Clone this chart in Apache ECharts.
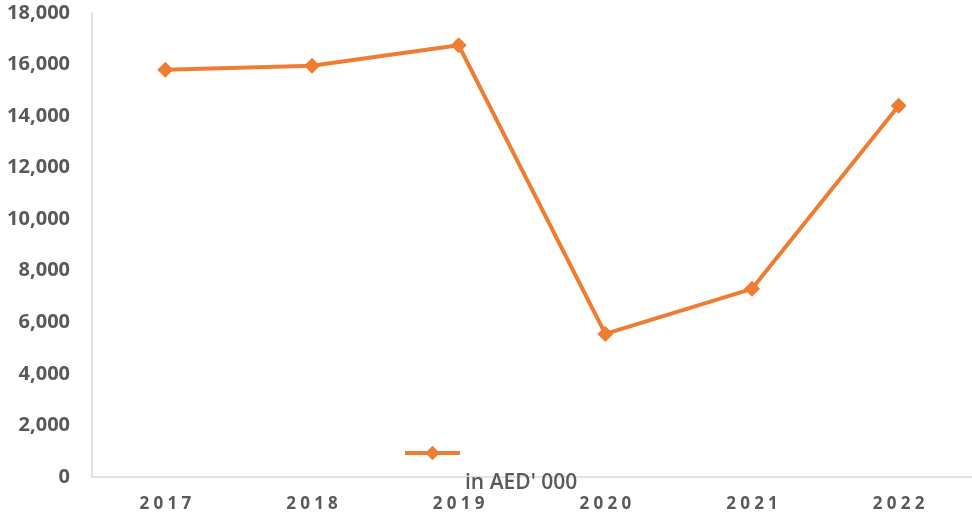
<!DOCTYPE html>
<html>
<head>
<meta charset="utf-8">
<script src="https://cdn.jsdelivr.net/npm/echarts@6/dist/echarts.min.js"></script>
<style>
  html, body { margin: 0; padding: 0; background: #fff; }
  #main { width: 972px; height: 517px; }
</style>
</head>
<body>
<div id="main"></div>
<script>
// data
var years = ["2017", "2018", "2019", "2020", "2021", "2022"];
var values = [15800, 15950, 16750, 5550, 7300, 14400];
var seriesName = "in AED' 000";

var chart = echarts.init(document.getElementById("main"));
var option = {
  animation: false,
  grid: { left: 92, right: 0, top: 13, bottom: 40 },
  legend: {
    data: [seriesName],
    left: 398,
    top: 388,
    itemWidth: 55,
    itemHeight: 18,
    itemGap: 5,
    lineStyle: { width: 4 },
    formatter: function (name) {
      return "\n" + name; // text sits below the icon, like the original
    },
    textStyle: {
      color: "#595959",
      fontFamily: "Open Sans",
      fontSize: 21,
      fontWeight: 600,
      lineHeight: 60,
    },
  },
  xAxis: {
    type: "category",
    data: years,
    boundaryGap: true,
    axisLine: { lineStyle: { color: "#d9d9d9", width: 1.5 } },
    axisTick: { show: false },
    axisLabel: {
      color: "#595959",
      fontFamily: "Open Sans",
      fontWeight: "bold",
      fontSize: 17,
      margin: 19,
      formatter: function (v) {
        return v.split("").join("\u2005"); // spread letters
      },
    },
  },
  yAxis: {
    type: "value",
    min: 0,
    max: 18000,
    interval: 2000,
    splitLine: { show: false },
    axisLine: { show: true, lineStyle: { color: "#d9d9d9", width: 1.5 } },
    axisTick: { show: false },
    axisLabel: {
      color: "#595959",
      fontFamily: "Open Sans",
      fontWeight: "bold",
      fontSize: 20,
      margin: 22,
      formatter: function (v) {
        return v.toLocaleString("en-US");
      },
    },
  },
  series: [
    {
      name: seriesName,
      type: "line",
      data: values,
      symbol: "diamond",
      symbolSize: 16,
      color: "#ED7D31",
      lineStyle: { width: 4 },
    },
  ],
};
chart.setOption(option);
</script>
</body>
</html>
